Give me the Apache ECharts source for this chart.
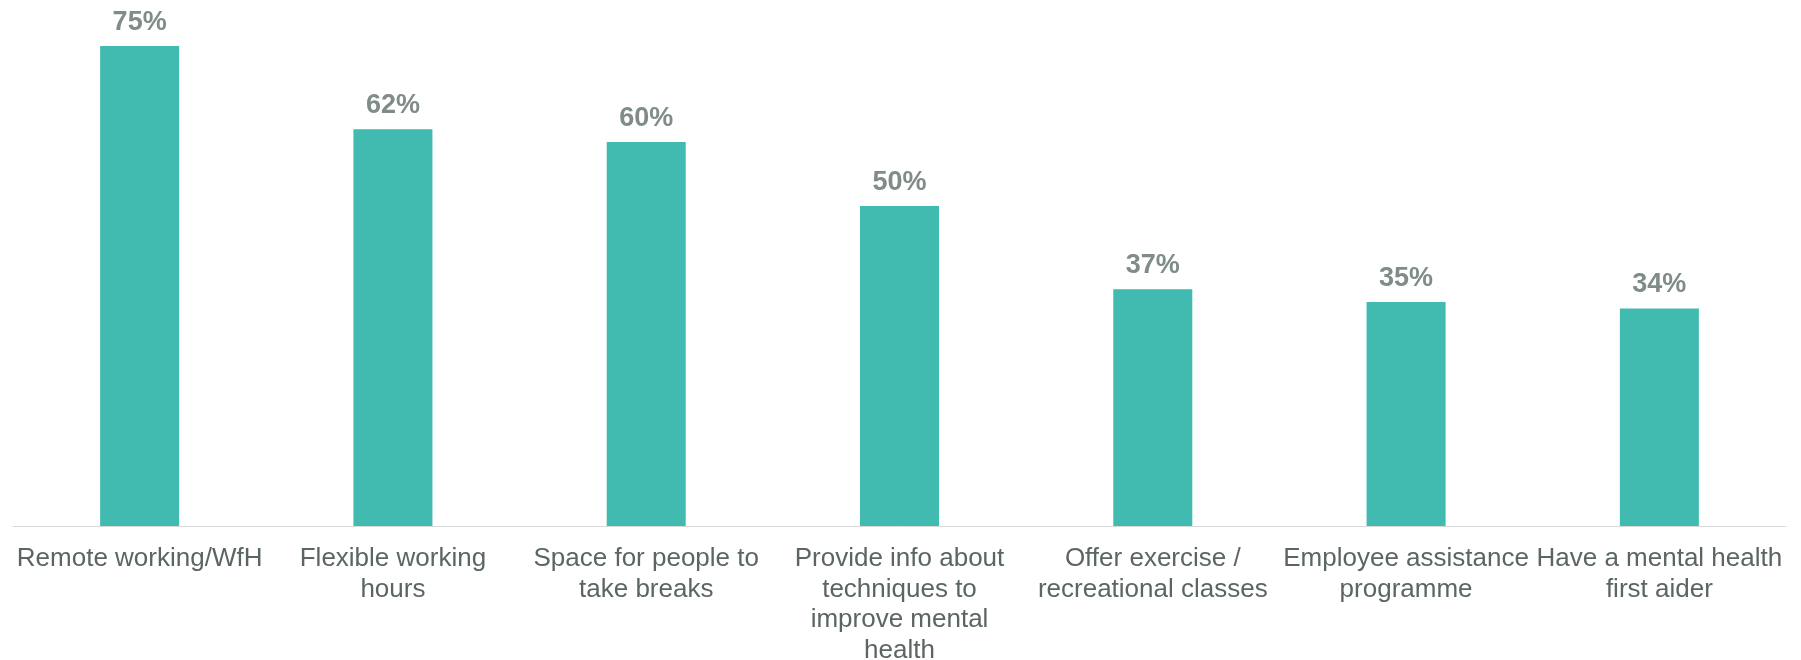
<!DOCTYPE html>
<html>
<head>
<meta charset="utf-8">
<script src="https://cdn.jsdelivr.net/npm/echarts@6/dist/echarts.min.js"></script>
<style>
  html, body { margin: 0; padding: 0; background: #ffffff; }
  #chart { width: 1801px; height: 660px; }
</style>
</head>
<body>
<div id="chart"></div>
<script>
// Workplace wellbeing measures (share of respondents, %)
const categories = [
  'Remote working/WfH',
  'Flexible working\nhours',
  'Space for people to\ntake breaks',
  'Provide info about\ntechniques to\nimprove mental\nhealth',
  'Offer exercise /\nrecreational classes',
  'Employee assistance\nprogramme',
  'Have a mental health\nfirst aider'
];
const shares = [75, 62, 60, 50, 37, 35, 34];

const FONT = '"Liberation Sans", Arial, Helvetica, sans-serif';

const chart = echarts.init(document.getElementById('chart'), null, { renderer: 'canvas' });
chart.setOption({
  backgroundColor: '#ffffff',
  animation: false,
  grid: {
    left: 13, right: 15, top: 14, bottom: 134,
    containLabel: false,
    outerBoundsMode: 'none'
  },
  xAxis: {
    type: 'category',
    data: categories,
    axisTick: { show: false },
    axisLine: { show: true, lineStyle: { color: '#d9d9d9', width: 1 } },
    axisLabel: {
      interval: 0,
      margin: 18,
      fontFamily: FONT,
      fontSize: 26,
      lineHeight: 30.5,
      color: '#5b6662',
      align: 'center'
    }
  },
  yAxis: {
    type: 'value',
    min: 0,
    max: 80,
    show: false,
    splitLine: { show: false }
  },
  series: [{
    type: 'bar',
    data: shares,
    barWidth: 79,
    itemStyle: { color: '#41bab0' },
    label: {
      show: true,
      position: 'top',
      distance: 10,
      formatter: p => p.value + '%',
      fontFamily: FONT,
      fontSize: 27,
      fontWeight: 'bold',
      color: '#7f8c88'
    }
  }]
});
</script>
</body>
</html>
